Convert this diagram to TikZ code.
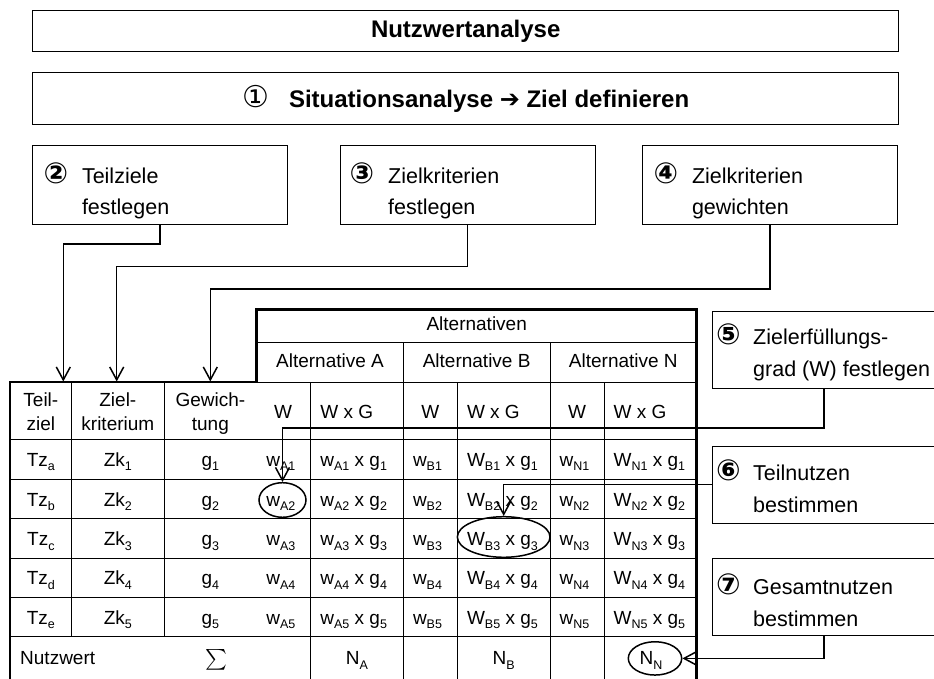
\documentclass[tikz,border=0pt]{standalone}
\usepackage{exscale}
\usepackage{fontspec}
\setmainfont{Liberation Sans}
\newfontfamily\dv{DejaVu Sans}
\usetikzlibrary{arrows.meta,shapes.geometric}
\newcommand\sbs[1]{\raisebox{-4.5pt}{\fontsize{12.5}{12.5}\selectfont #1}}
\newcommand\circn[1]{{\dv\bfseries\fontsize{29}{29}\selectfont #1}}
\newcommand\stp[4]{\begin{tabular}[t]{@{}l@{}l@{}}\makebox[#1][l]{\circn{#2}}&#3\\&#4\end{tabular}}
\begin{document}
\begin{tikzpicture}[x=1pt,y=-1pt,
  frame/.style={draw, line width=1pt, rectangle, inner sep=0},
  conn/.style={line width=1.5pt, -{Straight Barb[length=13pt,width=14pt,line width=1.5pt]}},
  tcell/.style={inner sep=0, anchor=base, font=\fontsize{19}{24}\selectfont},
  lcell/.style={inner sep=0, anchor=base west, font=\fontsize{19}{24}\selectfont},
  steptxt/.style={inner sep=0, anchor=base west, font=\fontsize{21.5}{31.5}\selectfont},
  ring/.style={draw, ellipse, line width=1.5pt, inner sep=0},
  thin/.style={line width=0.9pt},
  thick/.style={line width=2.7pt, line join=miter}
]
\useasboundingbox (0,0) rectangle (934,679);

% title boxes
\node[frame, minimum width=866.5, minimum height=41, font=\fontsize{24}{28}\selectfont\bfseries] (title) at (465.7,31.5) {Nutzwertanalyse};
\node[frame, minimum width=866.5, minimum height=51.8, font=\fontsize{24}{28}\selectfont\bfseries] (s1) at (465.7,98.6)
  {{\dv\mdseries\fontsize{30}{30}\selectfont ①}\hspace{20pt}Situationsanalyse {\dv\mdseries ➔} Ziel definieren};

% step boxes 2-4
\node[frame, minimum width=255, minimum height=78.3] (b2) at (159.8,184.9) {};
\node[frame, minimum width=255, minimum height=78.3] (b3) at (467.5,184.9) {};
\node[frame, minimum width=255, minimum height=78.3] (b4) at (769.8,184.9) {};
\node[steptxt] (t2) at (43.3,183.5) {\stp{38.5pt}{②}{Teilziele}{festlegen}};
\node[steptxt] (t3) at (349.5,183.5) {\stp{38.5pt}{③}{Zielkriterien}{festlegen}};
\node[steptxt] (t4) at (653.3,183.5) {\stp{38.5pt}{④}{Zielkriterien}{gewichten}};

% step boxes 5-7
\node[frame, minimum width=223.7, minimum height=76.6] (b5) at (824.2,350) {};
\node[frame, minimum width=223.7, minimum height=77.3] (b6) at (824.2,484.7) {};
\node[frame, minimum width=223.7, minimum height=76.7] (b7) at (824.2,596.7) {};
\node[steptxt] (t5) at (716,344.5) {\stp{37pt}{⑤}{Zielerfüllungs-}{grad (W) festlegen}};
\node[steptxt] (t6) at (716,480.5) {\stp{37pt}{⑥}{Teilnutzen}{bestimmen}};
\node[steptxt] (t7) at (716,594.8) {\stp{37pt}{⑦}{Gesamtnutzen}{bestimmen}};

% table grid
\draw[thin] (256.7,342) -- (696.7,342);
\draw[thin] (256.7,382) -- (696.7,382);
\foreach \y in {439,479.5,518.7,558.2,597.3,636.7} \draw[thin] (10,\y) -- (696.7,\y);
\foreach \x in {71.7,164} \draw[thin] (\x,382) -- (\x,636.7);
\foreach \x in {310.7,457.3,604} \draw[thin] (\x,382) -- (\x,679);
\foreach \x in {403.3,550} \draw[thin] (\x,342) -- (\x,679);
\draw[thick] (10,679) -- (10,382) -- (256.7,382) -- (256.7,309.3) -- (696.7,309.3) -- (696.7,679);

% header texts
\node[tcell] (halt) at (476.7,330.5) {Alternativen};
\node[tcell] (haa) at (330,367) {Alternative A};
\node[tcell] (hab) at (476.65,367) {Alternative B};
\node[tcell] (han) at (623.35,367) {Alternative N};
\node[tcell] (htz) at (40.85,406) {\begin{tabular}[t]{@{}c@{}}Teil-\\ziel\end{tabular}};
\node[tcell] (hzk) at (117.85,406) {\begin{tabular}[t]{@{}c@{}}Ziel-\\kriterium\end{tabular}};
\node[tcell] (hgw) at (210.35,406) {\begin{tabular}[t]{@{}c@{}}Gewich-\\tung\end{tabular}};
\node[tcell] (hwa) at (283.2,418) {W};
\node[lcell] (hpa) at (320.2,418) {W x G};
\node[tcell] (hwb) at (430.3,418) {W};
\node[lcell] (hpb) at (466.8,418) {W x G};
\node[tcell] (hwn) at (577,418) {W};
\node[lcell] (hpn) at (613.5,418) {W x G};

% data rows
\foreach \n/\l/\y in {1/a/466.2,2/b/506.1,3/c/545.5,4/d/584.8,5/e/624}{
  \node[tcell] (tz\n) at (40.85,\y) {Tz\sbs{\l}};
  \node[tcell] (zk\n) at (117.85,\y) {Zk\sbs{\n}};
  \node[tcell] (g\n) at (210.35,\y) {g\sbs{\n}};
  \node[lcell] (wa\n) at (266.2,\y) {w\sbs{A\n}};
  \node[lcell] (pa\n) at (320.2,\y) {w\sbs{A\n} x g\sbs{\n}};
  \node[lcell] (wb\n) at (412.8,\y) {w\sbs{B\n}};
  \node[lcell] (pb\n) at (466.8,\y) {W\sbs{B\n} x g\sbs{\n}};
  \node[lcell] (wn\n) at (559.5,\y) {w\sbs{N\n}};
  \node[lcell] (pn\n) at (613.5,\y) {W\sbs{N\n} x g\sbs{\n}};
}

% sum row
\node[lcell] (nw) at (20,664.9) {Nutzwert};
\node[inner sep=0, font=\fontsize{21}{24}\selectfont] (sum) at (216,659.5) {$\sum$};
\node[tcell] (na) at (357,664.9) {N\sbs{A}};
\node[tcell] (nb) at (503.65,664.9) {N\sbs{B}};
\node[tcell] (nn) at (651,664.9) {N\sbs{N}};

% rings
\node[ring, minimum width=47, minimum height=34.6] (eA2) at (282.5,500) {};
\node[ring, minimum width=92.7, minimum height=40.6] (eB3) at (503.7,537) {};
\node[ring, minimum width=53.4, minimum height=33.3] (eNN) at (655,658.4) {};

% arrow tips into the table
\coordinate (in2) at (63.3,381.5);
\coordinate (in3) at (116.7,381.5);
\coordinate (in4) at (210.3,381.5);

% connectors
\draw[conn] (b2.south) -- ++(0,19.3) -| (in2);
\draw[conn] (b3.south) -- ++(0,42) -| (in3);
\draw[conn] (b4.south) -- ++(0,64.3) -| (in4);
\draw[conn] (b5.south) -- ++(0,39.4) -| (eA2.north);
\draw[conn] (b6.west) -| (eB3.north);
\draw[conn] (b7.south) |- (eNN.east);
\end{tikzpicture}
\end{document}
